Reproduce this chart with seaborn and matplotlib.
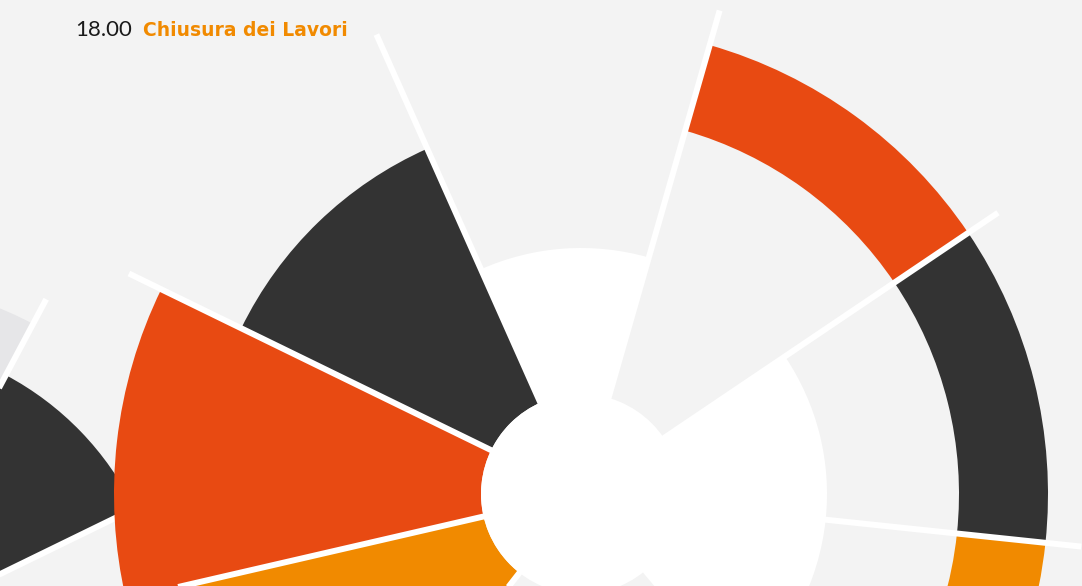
import numpy as np
import seaborn as sns
import matplotlib.pyplot as plt

sns.set_theme(style="white")
plt.rcParams["font.family"] = ["Lato", "DejaVu Sans"]

W, H = 1082, 586
bg = "#f3f3f3"

# main rose: sectors counter-clockwise from east (degrees)
sector_edges = [-6, 34, 74, 114, 154, 193, 232, 271, 310, 354]
core_radius = [246, 0, 246, 0, 0, 0, 0, 0, 246]
band_inner = [378, 378, 0, 100, 100, 100, 0, 0, 378]
band_outer = [467, 467, 0, 378, 467, 467, 0, 0, 467]
band_kind = ["dark", "red", None, "dark", "red", "orange", None, None, "orange"]
hole_radius = 100
spoke_length = 503

# second rose, partly visible on the left
left_edges = [26, 62, 98]
left_outer = [300, 358]
left_kind = ["dark", "light"]
left_spoke_length = 386

palette = {"dark": "#333333", "red": "#e84a12", "orange": "#f18a00",
           "light": "#e6e6e8", "white": "#ffffff"}

time_label = "18.00"
title_label = "Chiusura dei Lavori"


def polar_axes(fig, cx, cy, L=520):
    ax = fig.add_axes([(cx - L) / W, (H - cy - L) / H, 2 * L / W, 2 * L / H],
                      projection="polar")
    ax.set_ylim(0, L)
    ax.set_axis_off()
    ax.patch.set_alpha(0)
    return ax


def draw_spokes(ax, edges, length):
    for e in edges:
        t = np.deg2rad(e)
        ax.plot([t, t], [0, length], color="white", lw=4.3,
                solid_capstyle="butt", zorder=5)


fig = plt.figure(figsize=(W / 100, H / 100), dpi=100)
fig.patch.set_facecolor(bg)

# left rose (behind)
axl = polar_axes(fig, -135, 640)
for i, kind in enumerate(left_kind):
    a0, a1 = np.deg2rad(left_edges[i]), np.deg2rad(left_edges[i + 1])
    axl.bar((a0 + a1) / 2, left_outer[i], width=a1 - a0, bottom=0,
            color=palette[kind], linewidth=0, zorder=2)
draw_spokes(axl, left_edges, left_spoke_length)

# main rose
ax = polar_axes(fig, 581, 494)
for i in range(len(band_kind)):
    a0, a1 = np.deg2rad(sector_edges[i]), np.deg2rad(sector_edges[i + 1])
    mid, wd = (a0 + a1) / 2, a1 - a0
    if core_radius[i] > 0:
        ax.bar(mid, core_radius[i], width=wd, bottom=0,
               color=palette["white"], linewidth=0, zorder=2)
    if band_kind[i] is not None:
        ax.bar(mid, band_outer[i] - band_inner[i], width=wd, bottom=band_inner[i],
               color=palette[band_kind[i]], linewidth=0, zorder=3)
draw_spokes(ax, sector_edges[:-1], spoke_length)
ax.bar(0, hole_radius, width=2 * np.pi, bottom=0, color="white",
       linewidth=0, zorder=6)

fig.text(75 / W, 1 - 36 / H, time_label, fontsize=16, color="#1a1a1a",
         fontweight="normal", va="baseline", ha="left")
fig.text(143 / W, 1 - 36 / H, title_label, fontsize=13.5, color="#f18a00",
         fontweight="bold", va="baseline", ha="left",
         family=["DejaVu Sans"])

fig.savefig("out.png", dpi=100, facecolor=bg)
